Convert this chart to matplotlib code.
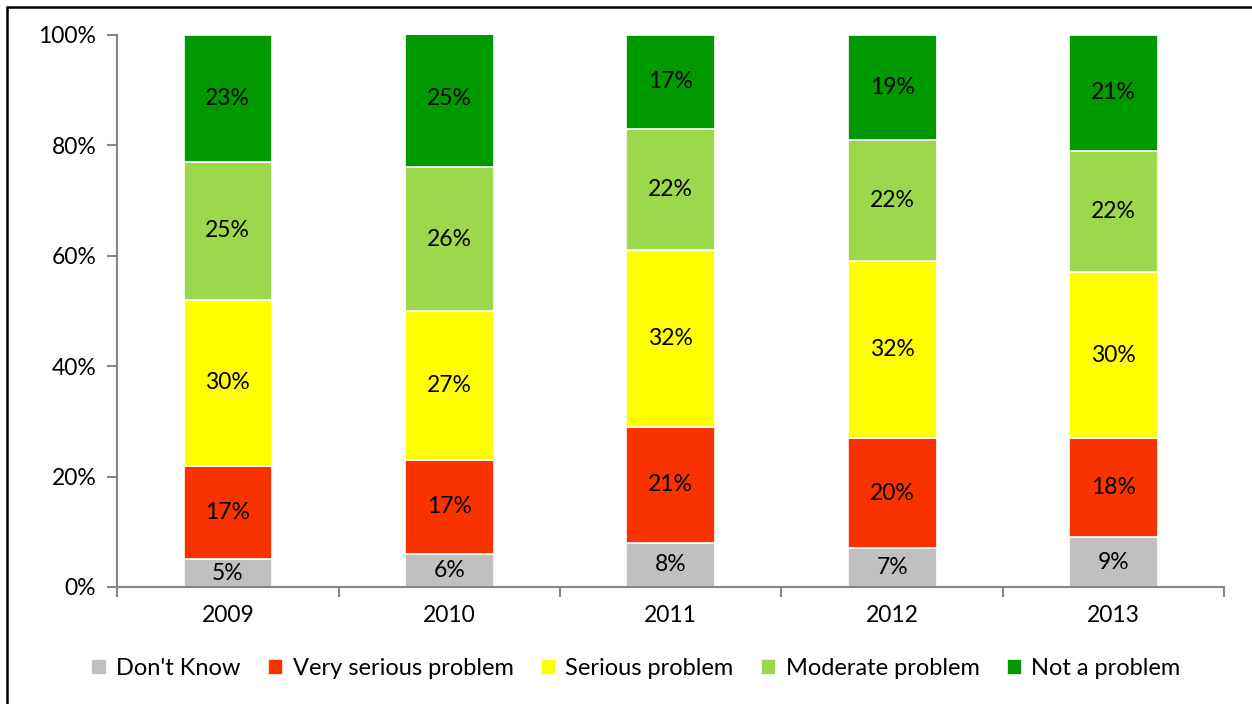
import numpy as np
import matplotlib.pyplot as plt
from matplotlib.patches import Rectangle

plt.rcParams['font.family'] = ['Lato', 'DejaVu Sans']

years = ['2009', '2010', '2011', '2012', '2013']
dont_know = [5, 6, 8, 7, 9]
very_serious = [17, 17, 21, 20, 18]
serious = [30, 27, 32, 32, 30]
moderate = [25, 26, 22, 22, 22]
not_problem = [23, 25, 17, 19, 21]

series = [
    ("Don't Know", dont_know, '#C0C0C0'),
    ('Very serious problem', very_serious, '#F93300'),
    ('Serious problem', serious, '#FFFF00'),
    ('Moderate problem', moderate, '#9BD84B'),
    ('Not a problem', not_problem, '#009900'),
]

fig = plt.figure(figsize=(12.52, 7.04), dpi=100)
ax = fig.add_axes([0.0935, 0.1662, 0.8845, 0.7841])

x = np.arange(len(years))
bottom = np.zeros(len(years))
for name, vals, color in series:
    vals = np.array(vals, dtype=float)
    ax.bar(x, vals, 0.4, bottom=bottom, color=color, edgecolor='white',
           linewidth=1.2, label=name)
    for xi, b, v in zip(x, bottom, vals):
        ax.text(xi, b + v / 2, f'{int(v)}%', ha='center', va='center',
                fontsize=16.5, color='black')
    bottom += vals

ax.set_xlim(-0.5, len(years) - 0.5)
ax.set_ylim(0, 100)
ax.set_yticks(np.arange(0, 101, 20))
ax.set_yticklabels([f'{v}%' for v in range(0, 101, 20)], fontsize=16.5)
ax.set_xticks(x)
ax.set_xticklabels(years, fontsize=16.5)
ax.set_xticks(np.arange(-0.5, len(years)), minor=True)
ax.tick_params(axis='x', which='major', length=0, pad=13)
ax.tick_params(axis='x', which='minor', length=7, width=1.5, color='#868686')
ax.tick_params(axis='y', length=7, width=1.5, color='#868686', pad=8)
for s in ['top', 'right']:
    ax.spines[s].set_visible(False)
for s in ['left', 'bottom']:
    ax.spines[s].set_color('#868686')
    ax.spines[s].set_linewidth(1.5)

fig.legend(loc='center', bbox_to_anchor=(0.508, 0.050), ncol=5, frameon=False,
           fontsize=17, handlelength=0.65, handleheight=0.65, handletextpad=0.4,
           columnspacing=1.15)

# outer frame around the chart
fig.patches.append(Rectangle((7 / 1252, -0.1), 1.2, 1 - 7 / 704 + 0.1,
                             transform=fig.transFigure, fill=False,
                             edgecolor='black', linewidth=1.8))

fig.savefig('out.png', dpi=100)
